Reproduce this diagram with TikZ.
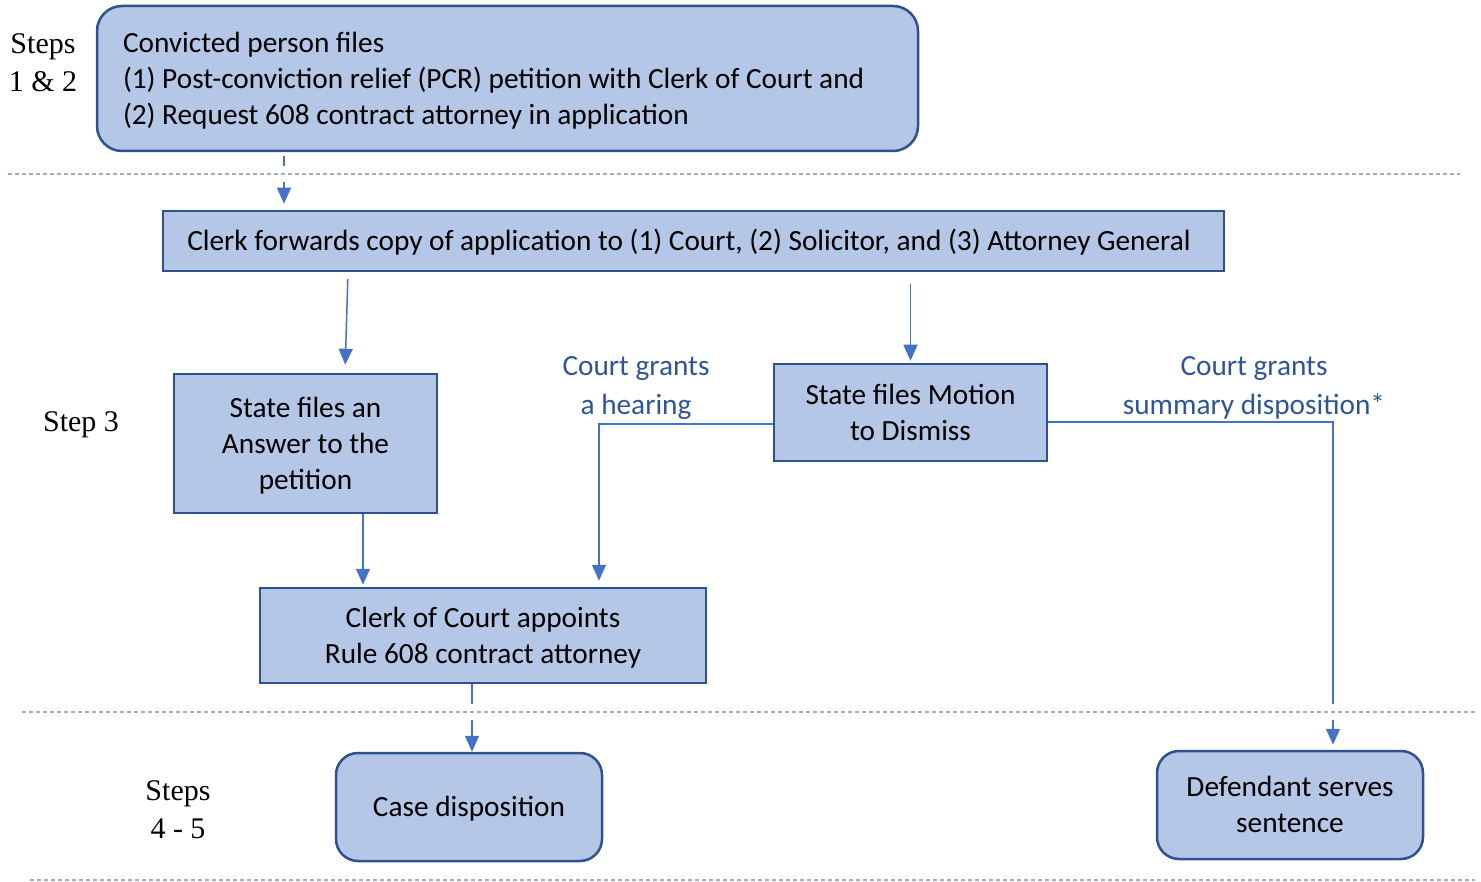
\documentclass[tikz,border=0pt]{standalone}
\usepackage{fontspec}
\setmainfont{Carlito}
\newfontfamily\serifstep{Liberation Serif}
\usetikzlibrary{arrows.meta}
\definecolor{boxfill}{HTML}{B4C7E7}
\definecolor{boxline}{HTML}{2F528F}
\definecolor{arrowblue}{HTML}{4472C4}
\definecolor{labelblue}{HTML}{2F5597}
\definecolor{sepline}{HTML}{A3ABBF}
% box text: rows of equal height, set a little below the optical centre
\newcommand{\boxlines}[2][c]{\raisebox{-2.5pt}[\height][\depth]{\begin{tabular}{@{}#1@{}}#2\end{tabular}}}
\begin{document}
\begin{tikzpicture}[x=1pt,y=-1pt,
  box/.style={draw=boxline, fill=boxfill, line width=2.5pt, inner sep=0pt, align=center,
    font=\fontsize{29.3}{36}\selectfont},
  rbox/.style={box, rounded corners=22pt},
  arr/.style={draw=arrowblue, line width=1.5pt, -{Triangle[length=16pt,width=14pt]}},
  halo/.style={draw=white, line width=16pt},
  sep/.style={draw=sepline, line width=2.5pt, dash pattern=on 4pt off 3pt},
  steplabel/.style={font=\serifstep\fontsize{30}{38}\selectfont, align=center, inner sep=0pt},
  cond/.style={text=labelblue, font=\fontsize{29.3}{39}\selectfont, align=center, inner sep=0pt}
]
\useasboundingbox (0,0) rectangle (1481,882);

% step labels
\node[steplabel] (s12) at (43,63) {Steps\\1 \& 2};
\node[steplabel] (s3) at (81,425) {Step 3};
\node[steplabel] (s45) at (178,810) {Steps\\4 - 5};

% process boxes
\node[rbox, rounded corners=25pt, minimum width=821pt, minimum height=145pt,
  text width=769pt, align=flush left] (file) at (507.5,78.5)
  {\boxlines[l]{Convicted person files\\(1) Post-conviction relief (PCR) petition with Clerk of Court and\\(2) Request 608 contract attorney in application}};
\node[box, minimum width=1061pt, minimum height=60pt] (fwd) at (693.5,241)
  {\boxlines{Clerk forwards copy of application to (1) Court, (2) Solicitor, and (3) Attorney General}\hspace*{9pt}};
\node[box, minimum width=263pt, minimum height=139pt] (answer) at (305.5,443.5)
  {\boxlines{State files an\\Answer to the\\petition}};
\node[box, minimum width=273pt, minimum height=97pt] (motion) at (910.5,412.5)
  {\boxlines{State files Motion\\to Dismiss}};
\node[box, minimum width=446pt, minimum height=95pt] (appoint) at (483,635.5)
  {\boxlines{Clerk of Court appoints\\Rule 608 contract attorney}};
\node[rbox, minimum width=266pt, minimum height=108pt] (dispo) at (469,807)
  {\boxlines{Case disposition}};
\node[rbox, minimum width=266pt, minimum height=108pt] (serve) at (1290,805)
  {\boxlines{Defendant serves\\sentence}};

% branch labels
\node[cond] (hear) at (636,388) {Court grants\\a hearing};
\node[cond] (summ) at (1254,388) {Court grants\\summary disposition*};

% connector positions
\coordinate (xa) at (284,0);
\coordinate (xb) at (348,0);
\coordinate (xc) at (345,0);
\coordinate (xd) at (363,0);
\coordinate (xe) at (599,0);
\coordinate (xf) at (1333,0);
\coordinate (xg) at (472,0);
\coordinate (yl) at (0,424);
\coordinate (yr) at (0,422);

% connectors
\draw[arr, shorten <=4pt, shorten >=6pt] (file.south -| xa) -- (fwd.north -| xa);
\draw[arr, shorten <=7pt, shorten >=8pt] (fwd.south -| xb) -- (answer.north -| xc);
\draw[arr, shorten <=12pt, shorten >=2pt] (fwd.south -| motion.north) -- (motion.north);
\draw[arr, shorten >=2pt] (answer.south -| xd) -- (appoint.north -| xd);
\draw[arr, shorten >=6pt] (motion.west |- yl) -| (appoint.north -| xe);
\draw[arr, shorten >=5pt] (motion.east |- yr) -| (serve.north -| xf);
\draw[arr] (appoint.south -| xg) -- (dispo.north -| xg);

% stage separators
\draw[halo] (8,174) -- (1460,174);
\draw[sep] (8,174) -- (1460,174);
\draw[halo] (22,712) -- (1475,712);
\draw[sep] (22,712) -- (1475,712);
\draw[halo] (30,880) -- (1475,880);
\draw[sep] (30,880) -- (1475,880);
\end{tikzpicture}
\end{document}
